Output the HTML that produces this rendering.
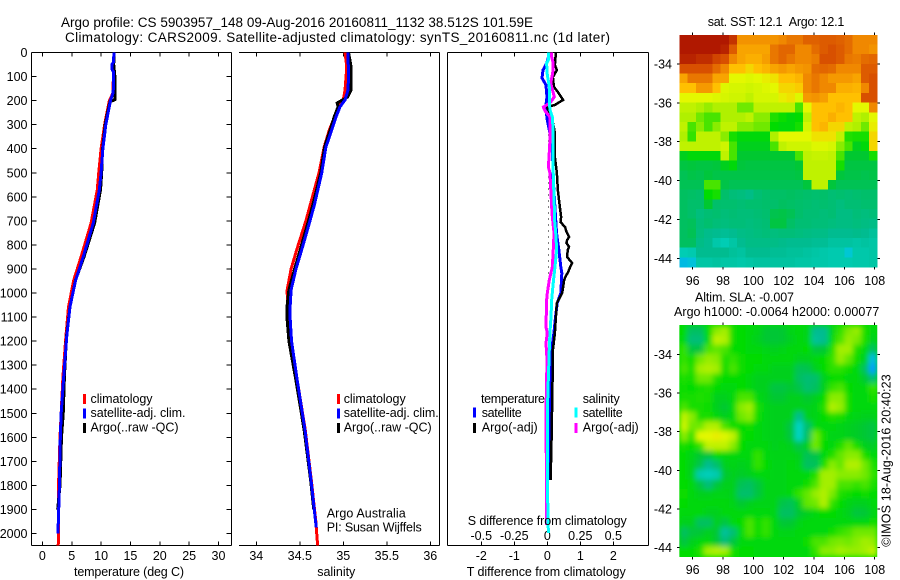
<!DOCTYPE html>
<html lang="en">
<head>
<meta charset="utf-8">
<title>Argo profile</title>
<style>
html,body{margin:0;padding:0;background:#fff;}
svg{display:block;}
text{font-family:"Liberation Sans",sans-serif;font-size:12.5px;fill:#000;}
.t{font-size:13.5px;}
</style>
</head>
<body>
<svg id="chart" width="900" height="580" viewBox="0 0 900 580" xmlns="http://www.w3.org/2000/svg">
<defs>
<clipPath id="c1"><rect x="31.5" y="52.5" width="200" height="493"/></clipPath>
<clipPath id="c2"><rect x="239" y="52.5" width="200.5" height="493"/></clipPath>
<clipPath id="c3"><rect x="447.5" y="52.5" width="201" height="493"/></clipPath>
<clipPath id="cm2"><rect x="679.3" y="325" width="198" height="232"/></clipPath>
<filter id="soft" filterUnits="userSpaceOnUse" x="660" y="300" width="240" height="280"><feGaussianBlur stdDeviation="2.6"/></filter>
</defs>
<g id="layer-maps"></g>
<g id="layer-axes"></g>
<g id="layer-series"></g>

<text class="t" x="61" y="27" textLength="472" lengthAdjust="spacing">Argo profile: CS 5903957_148 09-Aug-2016 20160811_1132 38.512S 101.59E</text>
<text class="t" x="65" y="42" textLength="545" lengthAdjust="spacing">Climatology: CARS2009. Satellite-adjusted climatology: synTS_20160811.nc (1d later)</text>

<text x="74" y="576" textLength="110" lengthAdjust="spacing">temperature (deg C)</text>
<text x="317.3" y="576" textLength="38" lengthAdjust="spacing">salinity</text>
<text x="466.7" y="576" textLength="159" lengthAdjust="spacing">T difference from climatology</text>
<text x="467.7" y="525" textLength="159" lengthAdjust="spacing">S difference from climatology</text>

<rect x="83" y="394" width="3" height="10" fill="#ff0000"/>
<rect x="83" y="408.500" width="3" height="10" fill="#0000ff"/>
<rect x="83" y="423" width="3" height="10" fill="#000"/>
<text x="90.500" y="403" textLength="62" lengthAdjust="spacing">climatology</text>
<text x="90.500" y="417" textLength="95" lengthAdjust="spacing">satellite-adj. clim.</text>
<text x="90.500" y="431.500" textLength="88" lengthAdjust="spacing">Argo(..raw -QC)</text>

<rect x="337" y="394" width="3" height="10" fill="#ff0000"/>
<rect x="337" y="408.500" width="3" height="10" fill="#0000ff"/>
<rect x="337" y="423" width="3" height="10" fill="#000"/>
<text x="343.700" y="403" textLength="62" lengthAdjust="spacing">climatology</text>
<text x="343.700" y="417" textLength="95" lengthAdjust="spacing">satellite-adj. clim.</text>
<text x="343.700" y="431.500" textLength="88" lengthAdjust="spacing">Argo(..raw -QC)</text>
<text x="326.700" y="517.700" textLength="79" lengthAdjust="spacing">Argo Australia</text>
<text x="326.700" y="531.700" textLength="95" lengthAdjust="spacing">PI: Susan Wijffels</text>

<text x="481" y="403" textLength="64" lengthAdjust="spacing">temperature</text>
<text x="481.700" y="417" textLength="40" lengthAdjust="spacing">satellite</text>
<text x="481.700" y="431.500" textLength="56" lengthAdjust="spacing">Argo(-adj)</text>
<text x="582.700" y="403" textLength="37" lengthAdjust="spacing">salinity</text>
<text x="582.700" y="417" textLength="40" lengthAdjust="spacing">satellite</text>
<text x="582.700" y="431.500" textLength="56" lengthAdjust="spacing">Argo(-adj)</text>
<rect x="473" y="407.500" width="3" height="10" fill="#0000ff"/>
<rect x="473" y="423" width="3" height="10" fill="#000"/>
<rect x="574.500" y="407.500" width="3" height="10" fill="#00ffff"/>
<rect x="574.500" y="423" width="3" height="10" fill="#ff00ff"/>

<text x="707.700" y="26" textLength="136.600" lengthAdjust="spacing">sat. SST: 12.1 &#160;Argo: 12.1</text>
<text x="695" y="301.700" textLength="99" lengthAdjust="spacing">Altim. SLA: -0.007</text>
<text x="674" y="316" textLength="205.300" lengthAdjust="spacing">Argo h1000: -0.0064 h2000: 0.00077</text>
<text transform="translate(890.700 546.700) rotate(-90)" x="0" y="0" textLength="172.400" lengthAdjust="spacing">©IMOS 18-Aug-2016 20:40:23</text>
</svg>

<script>
/* ---------- axis tick labels ---------- */
const depthTicks = [0,100,200,300,400,500,600,700,800,900,1000,1100,1200,1300,1400,1500,1600,1700,1800,1900,2000];
const tempTicks = [0,5,10,15,20,25,30];
const salTicks = [34,34.5,35,35.5,36];
const salTickLabels = ['34','34.5','35','35.5','36'];
const tDiffTicks = [-2,-1,0,1,2];
const sDiffTicks = [-0.5,-0.25,0,0.25,0.5];
const sDiffLabels = ['-0.5','-0.25','0','0.25','0.5'];
const lonTicks = [96,98,100,102,104,106,108];
const latTicks = [-34,-36,-38,-40,-42,-44];

/* ---------- temperature panel ---------- */
const tempDepth = [0,40,50,70,80,100,150,170,200,250,300,400,500,571,709,849,946,1057,1182,1348,1500,1600,1800,2000];
const tempSatellite = [12.2,12.1,11.85,11.85,12.1,12.1,12.1,12.0,11.6,11.2,10.8,10.3,10.0,9.7,8.67,6.97,5.67,4.7,4.14,3.63,3.2,3.05,2.9,2.65];
const argoTempDepth = [0,50,100,190,196,205,250,300,400,500,571,709,849,946,1057,1182,1348,1500,1600,1800,1900];
const tempArgo = [12.2,12.15,12.35,12.35,12.35,11.5,11.1,10.7,10.25,10.1,9.9,8.9,7.1,5.65,4.7,4.1,3.75,3.55,3.25,3.0,2.6];
const climDepth = [0,100,170,200,250,300,400,500,571,709,849,946,1057,1182,1348,1600,1800,2050];
const tempClim = [12.2,12.1,12.0,11.4,11.0,10.6,10.0,9.6,9.35,8.3,6.6,5.35,4.45,4.0,3.5,3.0,2.75,2.7];

/* ---------- salinity panel ---------- */
const salDepth = [0,100,156,197,226,268,322,393,501,634,700,820,900,987,1050,1112,1200,1362,1570,1780,1945,1975];
const salSatellite = [35.054,35.06,35.054,35.02,34.962,34.916,34.867,34.80,34.752,34.667,34.617,34.522,34.456,34.40,34.39,34.39,34.405,34.47,34.56,34.63,34.68,34.69];
const argoSalDepth = [0,60,100,156,185,210,226,268,322,393,501,634,700,820,900,987,1050,1112,1200,1362,1570,1780,1900];
const salArgo = [35.06,35.09,35.09,35.09,35.05,34.93,34.94,34.895,34.85,34.785,34.74,34.65,34.60,34.505,34.44,34.375,34.355,34.355,34.375,34.455,34.55,34.625,34.66];
const climSalDepth = [0,60,156,197,226,268,322,393,501,634,700,820,900,987,1100,1200,1362,1570,1780,1945,2050];
const salClim = [35.02,35.04,35.02,35.0,34.95,34.9,34.84,34.78,34.72,34.62,34.57,34.465,34.40,34.355,34.36,34.39,34.47,34.563,34.633,34.683,34.705];

/* ---------- difference panel ---------- */
const diffTDepth = [0,52,73,102,143,164,197,218,227,268,335,435,501,572,642,684,705,726,745,767,780,792,808,821,850,875,890,913,930,946,975,1000,1042,1100,1166,1237,1353,1599,1778];
const diffTArgo = [0.26,0.23,0.29,0.17,0.2,0.32,0.48,0.23,-0.01,0.14,0.23,0.23,0.29,0.32,0.38,0.42,0.4,0.54,0.58,0.66,0.6,0.58,0.66,0.62,0.6,0.75,0.7,0.63,0.56,0.51,0.48,0.45,0.29,0.26,0.23,0.17,0.16,0.13,0.1];
const diffTSatDepth = [0,44,73,106,135,185,227,281,322,393,501,642,751,821,892,917,1000,1042,1100,1166,1237,1353,1599,1778];
const diffTSat = [0.08,-0.02,-0.13,-0.16,-0.04,-0.01,-0.05,0,0.06,0.16,0.17,0.23,0.28,0.35,0.41,0.44,0.41,0.30,0.25,0.20,0.13,0.08,0.08,0.08];
const diffSSatDepth = [0,31,44,85,143,197,239,272,364,501,642,684,751,821,892,958,1029,1100,1166,1237,1353,1499,1778,1998];
const diffSSat = [0.008,0.008,-0.005,-0.002,0.015,0.015,0.02,0.04,0.045,0.045,0.053,0.053,0.064,0.071,0.058,0.045,0.033,0.028,0.02,0.015,0.008,0,0,0.008];
const diffSArgoDepth = [0,19,44,85,127,185,210,227,243,268,364,435,476,501,642,684,751,821,892,946,1000,1029,1141,1166,1208,1279,1353,1499,1902,1965];
const diffSArgo = [0.033,0.033,0.045,0.041,0.026,0.053,0.02,-0.03,-0.017,0.02,0.02,0.013,0.008,0.02,0.033,0.038,0.051,0.045,0.038,0.015,0,-0.005,-0.01,0,-0.01,-0.002,-0.005,-0.01,-0.005,-0.005];
const refDotDepth = [340,950];
const refDotT = [0.03,0.03];

/* ---------- SST map values (colour-scale units) ---------- */
const sstGrid = [
[11,11,11,11,11,11,10.5,8.8,8.8,8.8,8.8,8.8,9,9.3,9.3,9.7,9.7,9.8,9.8,9.7,9.5,9,9,9],
[11,11,11,11,11,10.8,9.8,8.5,8.5,8.5,8.5,9.3,9.6,9.6,9,9,9.5,9.8,10,9.8,9.5,9,9,8.8],
[10.8,10.8,10.6,10.6,10.2,10,9,8.5,8.3,8.3,8.6,9.3,9.6,9.3,9,9,9.2,10,10,9.8,9.3,9.2,9.5,9.6],
[10,10,10,10,9.5,9,8,8,7.8,8,8.2,8.5,8.7,8.5,8.7,8.8,9.5,9.6,9.5,9,9,9,9.8,9.8],
[8.5,9.3,9.3,9.3,8.5,8.5,7.5,7.5,7.4,7.5,7.6,7.7,8,8,8.2,9,9.3,9,8.7,8.7,8.7,8.5,9.8,10],
[8,8,8.7,8.7,8,7.4,7.3,7.3,7.2,7.3,7.4,7.5,7.8,7.8,7.9,9,9.3,9,9,8.3,8.3,8.2,9,10],
[7.5,7.5,7.5,7.5,7.4,7.3,7.2,7.2,7,7.3,7.3,7.3,7.6,7.7,7.4,8.7,8.8,8.6,8,8,8,8,10,10],
[7,7,6.8,6.6,6.8,6.8,6.8,6.3,6.3,7,7,7,7,7,6,7.5,8,8,8,8.2,8,7.5,7.5,9],
[6.8,6.8,6.3,6,6,6.8,6.8,6.8,7,6.5,6.5,5.6,5.4,5.2,5.3,7,8,8,8.3,8,8,7,6.8,7.5],
[7,6,6.5,6,6.5,7,7,6.5,6.5,6.3,6.3,5.3,5.2,5.2,5.5,7.3,8,8.2,7.8,7.8,7,6.8,6.3,7.6],
[6.8,5.8,7,7,7,6.5,5.5,5.2,5.2,5.2,5.2,6.8,7.5,7.5,7.5,7.5,7.7,7.7,7.7,7,5.6,5.5,5.5,7.8],
[7,7,7,7,7,7.2,6,5,5,5,5,6,7,7.2,7.2,7.2,7.4,7.4,7.3,6.5,6,5,5.2,7.8],
[5,5.2,5.2,5.2,5.2,7,6,4.8,4.8,4.8,4.8,4.8,4.8,4.8,6,7,7.1,7.1,7,6,4.8,4.8,4.8,5.5],
[4.5,4.6,4.5,4.5,4.6,5,5.2,4.6,4.5,4.5,4.5,4.5,4.5,4.5,4.7,7,7,7,7,5.5,4.5,4.5,4.5,4.5],
[4.2,4.4,4.3,4.6,4.4,4.4,4.4,4.4,4.4,4.4,4.4,4.4,4.4,4.4,4.5,7,7,7,7,4.6,4.4,4.4,4.3,4.4],
[4.2,4.2,4.2,6,6,4.4,4.2,4.2,4.2,4.2,4.2,4.2,4.2,4.2,4.2,4.6,7,7,4.6,4.2,4.2,4.2,4.2,4.2],
[4,3.9,3.8,5.3,5.5,3.8,3.5,3.4,3.2,3.6,3.8,3.9,3.9,4,3.9,3.8,3.7,3.8,3.6,3.7,3.6,3.7,3.8,3.8],
[4,3.8,3.8,4.8,3.8,3.7,3.7,3.6,3.7,3.7,3.8,3.8,4,3.9,3.8,3.7,3.6,3.7,3.6,3.4,3.6,3.6,3.7,3.7],
[4,3.8,3.4,3.6,3.7,3.5,3.6,3.5,3.5,3.6,3.7,4.3,4.4,4.2,3.8,3.6,3.6,3.5,3.6,3.3,3.3,3.5,3.4,3.5],
[4,4.1,3.5,3.7,3.5,3.4,3.5,3.5,3.4,3.5,3.6,4.5,4.5,3.9,3.6,3.6,3.5,3.5,3.4,3.3,3.3,3.4,3.3,3.2],
[4,4.2,3.4,3.1,3,2.9,3,3.2,3.3,3.4,3.5,3.4,3.5,3.5,3.4,3.3,3.2,3.2,3,3,3,3.1,3,2.8],
[4,4,3.2,3,2.5,2.3,2.6,3,3.2,3.2,3.2,3.2,3.1,3,3,3,2.9,2.9,2.7,2.7,2.7,2.6,2.7,2.6],
[2.3,2.4,3,3,3,3,2.8,2.7,3,3,3,2.9,2.9,2.8,2.8,2.7,2.6,2.5,2.4,2.4,1.8,2.5,2.5,2.6],
[1.6,1.7,2.6,2.6,2.7,2.6,2.6,2.5,2.6,2.7,2.7,2.7,2.7,2.7,2.6,2.6,2.5,2.5,2.4,2.4,2.4,2.5,2.5,2.6]
];

/* ---------- SLA map values (colour-scale units) ---------- */
const slaGrid = [
[5.3,4,4,5.3,6.5,6.7,5.4,5.3,5.2,5.1,4.8,4.7,4.8,5.1,5.2,5.1,3,3,5.1,5.8,6.4,6.6,5.5,5.2],
[5.2,3.5,3.5,5.2,7,6.8,5.4,5.3,5.2,5,4.8,4.7,4.8,5,5.2,5.1,2.8,3,5.2,6,6.6,6.4,5.5,5],
[5.8,4.6,4.5,6,6.2,6,5.3,5.3,5.2,5.2,5.1,5,5.1,5.2,5.2,5.3,4.6,4.8,5.6,6.7,6.7,5.6,5.2,4],
[5.8,5.4,6.3,6.6,6.5,5.6,5.8,5.4,5.3,5.3,5.2,5.2,5.2,5.2,5,5,5.2,5.3,5.8,6.6,6.2,5.4,5,1.6],
[6,5.5,6.7,6.8,6.7,5.4,6,5.4,5.3,5.2,5.2,5,5,5,4.2,4.3,5,5.3,5.7,5.7,5.4,5.2,4,1.2],
[5.6,5.4,6.3,6.3,5.6,5.3,5.3,5.3,5.2,5,5,5,5,5,4,3.6,3.8,5,5.3,5.3,5.2,5.2,4.8,3.5],
[5.4,5.3,5.5,5.6,5.3,5.2,5.2,5.3,5.2,5,5,4.5,4.5,4.8,4.4,3.7,4,5,5.8,6,5.3,5.2,5.2,5.8],
[5.5,5.5,5.6,5.5,5,5,5.2,6,6,5.2,5,4.8,4.8,5,5,4.8,5,5.3,6.5,6.5,5.4,5.2,5.2,5.5],
[6,5.5,5.5,5.4,5,4.8,5.2,6.5,6.7,5.5,5.1,5,5,5,5,5,5.1,5.6,6.8,6.6,5.4,5.2,5.2,5.2],
[7,6.5,5.5,5.5,5.2,5,5.2,6.3,6.5,5.4,5.1,5,5,5,3,5,5.1,5.3,5.6,5.5,5.2,5.1,5,5],
[7.2,6.3,6.3,6.8,6.8,6,5.4,5.3,5.4,5.2,5.1,5,5,4.5,2,3.8,5.2,5.2,5.2,5.1,5,4.9,4.7,4.5],
[6.5,5.8,7.5,7.5,7.6,7.4,7,5.4,5.3,5.2,5.1,5,5,4.6,2,4,6.3,5.4,5.1,5.1,5,4.9,4.7,4.5],
[5.5,5.3,5.8,7,7,7,6.5,5.3,5.2,5.2,5.2,5,5.1,5,4.4,5,6.3,5.3,5.2,5.6,6.2,5.5,5,4.9],
[5.3,5.1,4.8,4.6,5.3,5.2,5.2,5.2,5.2,5.8,5.2,5.1,5.1,5.1,5,4.2,4.4,5.2,5.6,6.2,6.5,6.5,5.5,5.2],
[5.3,5,4.4,3,3.8,5,5.1,5,5.1,5.8,5.3,5.1,5.1,5.2,5.1,4,4.1,5.5,6.5,6.2,6.8,6.8,6.3,5.6],
[5.3,5,2.4,2.2,2.4,4.8,5,4.9,5,5.2,5.2,5.1,5.1,5.2,5.2,5.2,5.6,6.7,6.7,6.5,6.5,6.5,6.3,5.8],
[5.3,5.2,4.5,3.5,4.6,5,5,4.2,4,4.6,5.1,5.1,5.1,5.2,5.2,5.4,6,6.7,6.7,6,6,5.8,6,5.6],
[5.4,5.2,5,5,5.1,5.1,5,3.8,3.8,4.6,5.1,5.1,5.1,5.2,5.8,6.2,6.6,6.8,6.4,5.6,5.4,5.3,5.4,5.3],
[5.3,5.2,5.2,5.2,5.2,5.2,5.1,4.8,5,5.1,5.1,5.1,4.4,4.2,5,6.2,6.3,6.8,5.8,5.3,5.1,5,5,5.2],
[5.2,5.2,5.2,5,5,5.2,5.2,5.2,5.2,5.2,5.2,5.1,4,4,4.8,5,5.2,5.3,5.3,5.2,5,4.6,4.7,5.1],
[5,5,4,4,5,4.5,5.2,5.3,6,5.4,5.8,5.2,4.7,4.8,5.1,5.2,5.2,5.2,5.2,5.2,5.2,5.2,5.2,5.4],
[4,4.6,4.7,5,4.8,2.8,3.6,5.2,6,5.4,5.8,5.2,5.1,5.1,5.2,5.2,5.2,5.2,5.4,5.8,6,6.3,6.3,6.3],
[4.5,5,5.2,5.2,4.8,3.5,4.6,5.2,5.2,5.2,5.2,5.2,5.2,5.2,5.2,5.4,6,6,6.3,6.4,6.3,6.5,6.7,6.6],
[5.3,5.3,5.6,6.7,6.8,6.7,5.5,5.3,5.3,5.2,5.2,5.2,5.2,5.2,5.2,5.2,5.8,6.5,6.5,6.7,6.6,6.6,6.7,7]
];
const colorStops = [0,1.2,2,3,4,4.8,5.3,6,6.8,7.5,8,9,10,11];
const colorHex = ['#0050ff','#00a0ff','#00d4c4','#00bc90','#00c060','#00c830','#00dc00','#48e400','#b0f000','#e4f800','#ffc000','#f08800','#d85000','#b01800'];

/* ---------- scales ---------- */
const NS = 'http://www.w3.org/2000/svg';
const depthY = d => 52.5 + d * 0.2405;
const tempX = t => 42.4 + t * 5.87;
const salX = s => 256.3 + (s - 34) * 87;
const tDiffX = t => 547.3 + t * 33;
const sDiffX = s => 547.3 + s * 132;
const lonX = lon => 692.7 + (lon - 96) * 15.17;
const sstLatY = lat => 64 + (-34 - lat) * 19.43;
const slaLatY = lat => 354.3 + (-34 - lat) * 19.33;
const mapLonEdges = [95.12, 108.17];
const mapLatEdges = [-32.5, -44.45];

const axesLayer = document.getElementById('layer-axes');
const seriesLayer = document.getElementById('layer-series');
const mapLayer = document.getElementById('layer-maps');

function node(tag, attrs, parent) {
  const el = document.createElementNS(NS, tag);
  for (const k in attrs) el.setAttribute(k, attrs[k]);
  parent.appendChild(el);
  return el;
}
function seg(x1, y1, x2, y2) {
  return node('line', {x1, y1, x2, y2, stroke: '#000', 'stroke-width': 1, 'shape-rendering': 'crispEdges'}, axesLayer);
}
function label(str, x, y, anchor) {
  const el = node('text', {x, y, 'text-anchor': anchor}, axesLayer);
  el.textContent = str;
  return el;
}
function colorFor(v) {
  let i = 0;
  while (i < colorStops.length - 2 && v > colorStops[i + 1]) i++;
  const f = Math.max(0, Math.min(1, (v - colorStops[i]) / (colorStops[i + 1] - colorStops[i])));
  const a = colorHex[i], b = colorHex[i + 1];
  const ch = (s, p) => parseInt(s.substr(p, 2), 16);
  const mix = p => Math.round(ch(a, p) + (ch(b, p) - ch(a, p)) * f);
  return 'rgb(' + mix(1) + ',' + mix(3) + ',' + mix(5) + ')';
}
function profile(depths, values, xf, color, width, clip, dash) {
  const pts = depths.map((d, i) => xf(values[i]).toFixed(2) + ',' + depthY(d).toFixed(2)).join(' ');
  const attrs = {points: pts, fill: 'none', stroke: color, 'stroke-width': width, 'shape-rendering': 'crispEdges', 'clip-path': 'url(#' + clip + ')'};
  if (dash) attrs['stroke-dasharray'] = dash;
  return node('polyline', attrs, seriesLayer);
}

/* ---------- panel frames ---------- */
[[31.5,231.5],[239,439.5],[447.5,648.5]].forEach((p, idx) => {
  const top = seg(p[0], 52.5, p[1], 52.5);
  
  
  const bottom = seg(p[0], 545.5, p[1], 545.5);
  
  
  const right = seg(p[1], 52.5, p[1], 545.5);
  
  
  if (idx !== 1) {
    const left = seg(p[0], 52.5, p[0], 545.5);
    
    
  }
});

/* ---------- depth ticks ---------- */
depthTicks.forEach(d => {
  const y = depthY(d);
  const a = seg(31.5, y, 36.5, y);
  
  
  const b = seg(226.5, y, 231.5, y);
  
  
  const t = label(String(d), 27.5, y + 4.5, 'end');
  
  
});

/* ---------- x ticks ---------- */
function xTicks(vals, xf, text, y) {
  return vals.map((v, i) => {
    const x = xf(v);
    const a = seg(x, 52.5, x, 56.5);
    
    
    const b = seg(x, 541.5, x, 545.5);
    
    
    const t = label(text[i], x, y, 'middle');
    
    
  });
}
xTicks(tempTicks, tempX, tempTicks.map(String), 560);
xTicks(salTicks, salX, salTickLabels, 560);
xTicks(tDiffTicks, tDiffX, tDiffTicks.map(String), 560);
sDiffTicks.forEach((s, i) => {
  const t = label(sDiffLabels[i], sDiffX(s), 540, 'middle');
  
  
});

/* ---------- series ---------- */
const l1 = profile(climDepth, tempClim, tempX, '#ff0000', 3, 'c1');


const l2 = profile(argoTempDepth, tempArgo, tempX, '#000', 3, 'c1');


const l3 = profile(tempDepth, tempSatellite, tempX, '#0000ff', 3, 'c1');



const l4 = profile(climSalDepth, salClim, salX, '#ff0000', 3, 'c2');


const l5 = profile(argoSalDepth, salArgo, salX, '#000', 3, 'c2');


const l6 = profile(salDepth, salSatellite, salX, '#0000ff', 3, 'c2');



const l7 = profile(refDotDepth, refDotT, tDiffX, '#000', 1, 'c3', '1 5');


const l8 = profile(diffTSatDepth, diffTSat, tDiffX, '#0000ff', 3, 'c3');


const l9 = profile(diffTDepth, diffTArgo, tDiffX, '#000', 2.5, 'c3');


const l10 = profile(diffSArgoDepth, diffSArgo, sDiffX, '#ff00ff', 3, 'c3');


const l11 = profile(diffSSatDepth, diffSSat, sDiffX, '#00ffff', 3, 'c3');



/* ---------- maps ---------- */
function cellEdges(grid, i, j, latY) {
  const rows = grid.length, cols = grid[0].length;
  const lonAt = k => mapLonEdges[0] + (mapLonEdges[1] - mapLonEdges[0]) * k / cols;
  const latAt = k => mapLatEdges[0] + (mapLatEdges[1] - mapLatEdges[0]) * k / rows;
  return {x: lonX(lonAt(j)), y: latY(latAt(i)), w: lonX(lonAt(j + 1)) - lonX(lonAt(j)), h: latY(latAt(i + 1)) - latY(latAt(i))};
}
const sstGroup = node('g', {}, mapLayer);


sstGrid.forEach((row, i) => row.forEach((v, j) => {
  const c = cellEdges(sstGrid, i, j, sstLatY);
  const r = node('rect', {x: c.x.toFixed(2), y: c.y.toFixed(2), width: (c.w + 0.4).toFixed(2), height: (c.h + 0.4).toFixed(2), fill: colorFor(v), 'shape-rendering': 'crispEdges'}, sstGroup);
  
  
}));
const slaClip = node('g', {'clip-path': 'url(#cm2)'}, mapLayer);


const slaBase = node('rect', {x: 679.3, y: 325, width: 198, height: 232, fill: colorFor(5.3)}, slaClip);


const slaGroup = node('g', {filter: 'url(#soft)'}, slaClip);


slaGrid.forEach((row, i) => row.forEach((v, j) => {
  const c = cellEdges(slaGrid, i, j, slaLatY);
  const r = node('rect', {x: c.x.toFixed(2), y: c.y.toFixed(2), width: (c.w + 0.4).toFixed(2), height: (c.h + 0.4).toFixed(2), fill: colorFor(v), 'shape-rendering': 'crispEdges'}, slaGroup);
  
  
}));

/* ---------- map axes ---------- */
function mapAxes(top, bottom, latY, labelY) {
  lonTicks.forEach(lon => {
    const x = lonX(lon);
    const a = seg(x, top - 2.5, x, top);
    
    
    const b = seg(x, bottom, x, bottom + 2.5);
    
    
    const t = label(String(lon), x, labelY, 'middle');
    
    
  });
  latTicks.forEach(lat => {
    const y = latY(lat);
    const a = seg(676.8, y, 679.3, y);
    
    
    const b = seg(877.3, y, 879.8, y);
    
    
    const t = label(String(lat), 672, y + 4.5, 'end');
    
    
  });
}
mapAxes(35, 267, sstLatY, 285);
mapAxes(325, 557, slaLatY, 574);
</script>
</body>
</html>
